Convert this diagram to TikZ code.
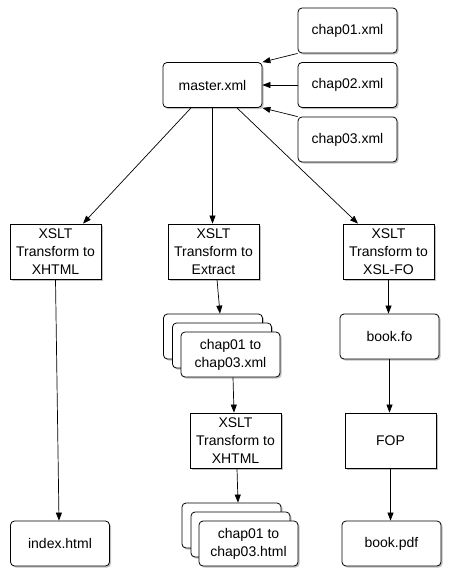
\documentclass[tikz,border=0pt]{standalone}
\usepackage{fontspec}
\setmainfont{Liberation Sans}
\usetikzlibrary{arrows.meta,shadows,calc}
\begin{document}
\begin{tikzpicture}[x=1pt,y=-1pt,
  base/.style={draw=black,line width=0.8pt,fill=white,inner sep=0pt,align=center,
    font=\fontsize{14pt}{18pt}\selectfont,
    drop shadow={shadow xshift=1.6pt,shadow yshift=-1.6pt,fill=black!35,opacity=0.7}},
  filebox/.style={base,rounded corners=4pt,minimum width=99pt,minimum height=45pt},
  procbox/.style={base,minimum width=91pt,minimum height=55pt},
  conn/.style={line width=0.7pt,-{Triangle[length=8pt,width=6pt]}}]
\useasboundingbox (0,0) rectangle (455,582);
% top files
\node[filebox] (c1) at (347.5,30.5) {chap01.xml};
\node[filebox] (c2) at (347.5,85) {chap02.xml};
\node[filebox] (c3) at (347.5,139.5) {chap03.xml};
\node[filebox] (m) at (212.5,85) {master.xml};
% transforms
\node[procbox] (x1) at (55.5,251.5) {XSLT\\Transform to\\XHTML};
\node[procbox] (x2) at (213.5,251.5) {XSLT\\Transform to\\Extract};
\node[procbox] (x3) at (388.5,251.5) {XSLT\\Transform to\\XSL-FO};
% stack 1
\node[filebox] (s1b) at (213,336.5) {};
\node[filebox] (s1m) at (222,345.5) {};
\node[filebox] (s1f) at (230.5,354.5) {chap01 to\\chap03.xml};
\node[filebox] (fo) at (389.5,336.5) {book.fo};
% second row
\node[procbox] (x4) at (235.5,440.5) {XSLT\\Transform to\\XHTML};
\node[procbox] (fop) at (390.5,440.5) {FOP};
% bottom
\node[filebox] (idx) at (60,543.5) {index.html};
\node[filebox] (s2b) at (231.5,525.5) {};
\node[filebox] (s2m) at (240.5,534.5) {};
\node[filebox] (s2f) at (248.5,543.5) {chap01 to\\chap03.html};
\node[filebox] (pdf) at (391.5,543.5) {book.pdf};
% connectors
\draw[conn] (c1.south west) -- (m.north east);
\draw[conn] (c2.west) -- (m.east);
\draw[conn] (c3.north west) -- (m.south east);
\draw[conn] ([xshift=-21.5pt]m.south) -- ([xshift=27.5pt]x1.north);
\draw[conn] (m.south) -- (m.south |- x2.north);
\draw[conn] ([xshift=24.5pt]m.south) -- ([xshift=-30.5pt]x3.north);
\draw[conn] (x1.south) -- ([xshift=-1pt]idx.north);
\draw[conn] ([xshift=3.5pt]x2.south) -- ([xshift=7pt]s1b.north);
\draw[conn] ([xshift=2.5pt]s1f.south) -- ([xshift=-1.5pt]x4.north);
\draw[conn] ([xshift=1.5pt]x4.south) -- ([xshift=6.5pt]s2b.north);
\draw[conn] (x3.south) -- (x3.south |- fo.north);
\draw[conn] (fo.south) -- (fo.south |- fop.north);
\draw[conn] (fop.south) -- (fop.south |- pdf.north);
\end{tikzpicture}
\end{document}
